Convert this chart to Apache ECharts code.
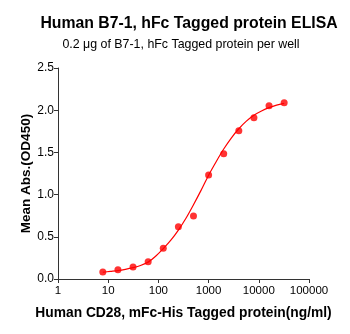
<!DOCTYPE html>
<html><head><meta charset="utf-8">
<script src="https://cdn.jsdelivr.net/npm/echarts@6/dist/echarts.min.js"></script>
<style>html,body{margin:0;padding:0;background:#fff}#c{width:350px;height:334px}</style>
</head><body><div id="c"></div>
<script>
var concentrations = [7.8125, 15.625, 31.25, 62.5, 125, 250, 500, 1000, 2000, 4000, 8000, 16000, 32000];
var absorbance = [0.083, 0.11, 0.142, 0.205, 0.364, 0.62, 0.746, 1.232, 1.485, 1.757, 1.911, 2.053, 2.089];
var curveX = [7.8, 11, 15.6, 22, 31.25, 44, 62.5, 88, 125, 177, 250, 354, 500, 707, 1000, 1414, 2000, 2828, 4000, 5657, 8000, 11314, 16000, 22627, 32000];
var curveY = [0.08, 0.09, 0.10, 0.115, 0.135, 0.16, 0.20, 0.27, 0.36, 0.46, 0.58, 0.72, 0.88, 1.05, 1.23, 1.39, 1.54, 1.67, 1.78, 1.87, 1.94, 1.99, 2.03, 2.06, 2.08];
var xTicks = ['1', '10', '100', '1000', '10000', '100000'];
var yTicks = ['0.0', '0.5', '1.0', '1.5', '2.0', '2.5'];

var font = 'Liberation Sans, Arial, sans-serif';
var chart = echarts.init(document.getElementById('c'), null, {renderer: 'canvas'});
chart.setOption({
  animation: false,
  title: [
    {text: 'Human B7-1, hFc Tagged protein ELISA', left: 184, top: 11, textAlign: 'center',
     textStyle: {fontFamily: font, fontSize: 15.8, fontWeight: 'bold', color: '#000'}},
    {text: '0.2 \u03bcg of B7-1, hFc Tagged protein per well', left: 176, top: 34, textAlign: 'center',
     textStyle: {fontFamily: font, fontSize: 12.4, fontWeight: 'normal', color: '#000'}}
  ],
  grid: {left: 58, right: 41, top: 68, bottom: 55},
  xAxis: {
    type: 'log', logBase: 10, min: 1, max: 100000,
    name: 'Human CD28, mFc-His Tagged protein(ng/ml)', nameLocation: 'middle', nameGap: 27,
    nameMoveOverlap: false,
    nameTextStyle: {fontFamily: font, fontSize: 13.8, fontWeight: 'bold', color: '#000'},
    axisLine: {lineStyle: {color: '#333', width: 1}},
    axisTick: {show: true, length: 4, lineStyle: {color: '#333'}},
    minorTick: {show: false},
    splitLine: {show: false},
    axisLabel: {fontFamily: font, fontSize: 11.5, color: '#000', margin: 6,
      formatter: function (v) { var i = Math.round(Math.log10(v)); return xTicks[i] || ''; }}
  },
  yAxis: {
    type: 'value', min: 0, max: 2.5, interval: 0.5,
    name: 'Mean Abs.(OD450)', nameLocation: 'middle', nameGap: 25,
    nameMoveOverlap: false,
    nameTextStyle: {fontFamily: font, fontSize: 13.5, fontWeight: 'bold', color: '#000'},
    axisLine: {show: true, lineStyle: {color: '#333', width: 1}},
    axisTick: {show: true, length: 4, lineStyle: {color: '#333'}},
    splitLine: {show: false},
    axisLabel: {fontFamily: font, fontSize: 12, color: '#000', margin: 4,
      formatter: function (v) { return yTicks[Math.round(v / 0.5)]; }}
  },
  series: [
    {type: 'line', data: curveX.map(function (x, i) { return [x, curveY[i]]; }),
     showSymbol: false, smooth: 0.3, lineStyle: {color: '#ff0000', width: 1.2}, z: 2},
    {type: 'scatter', data: concentrations.map(function (x, i) { return [x, absorbance[i]]; }),
     symbol: 'circle', symbolSize: 7, itemStyle: {color: '#ff0000'}, z: 3}
  ]
});
</script></body></html>
